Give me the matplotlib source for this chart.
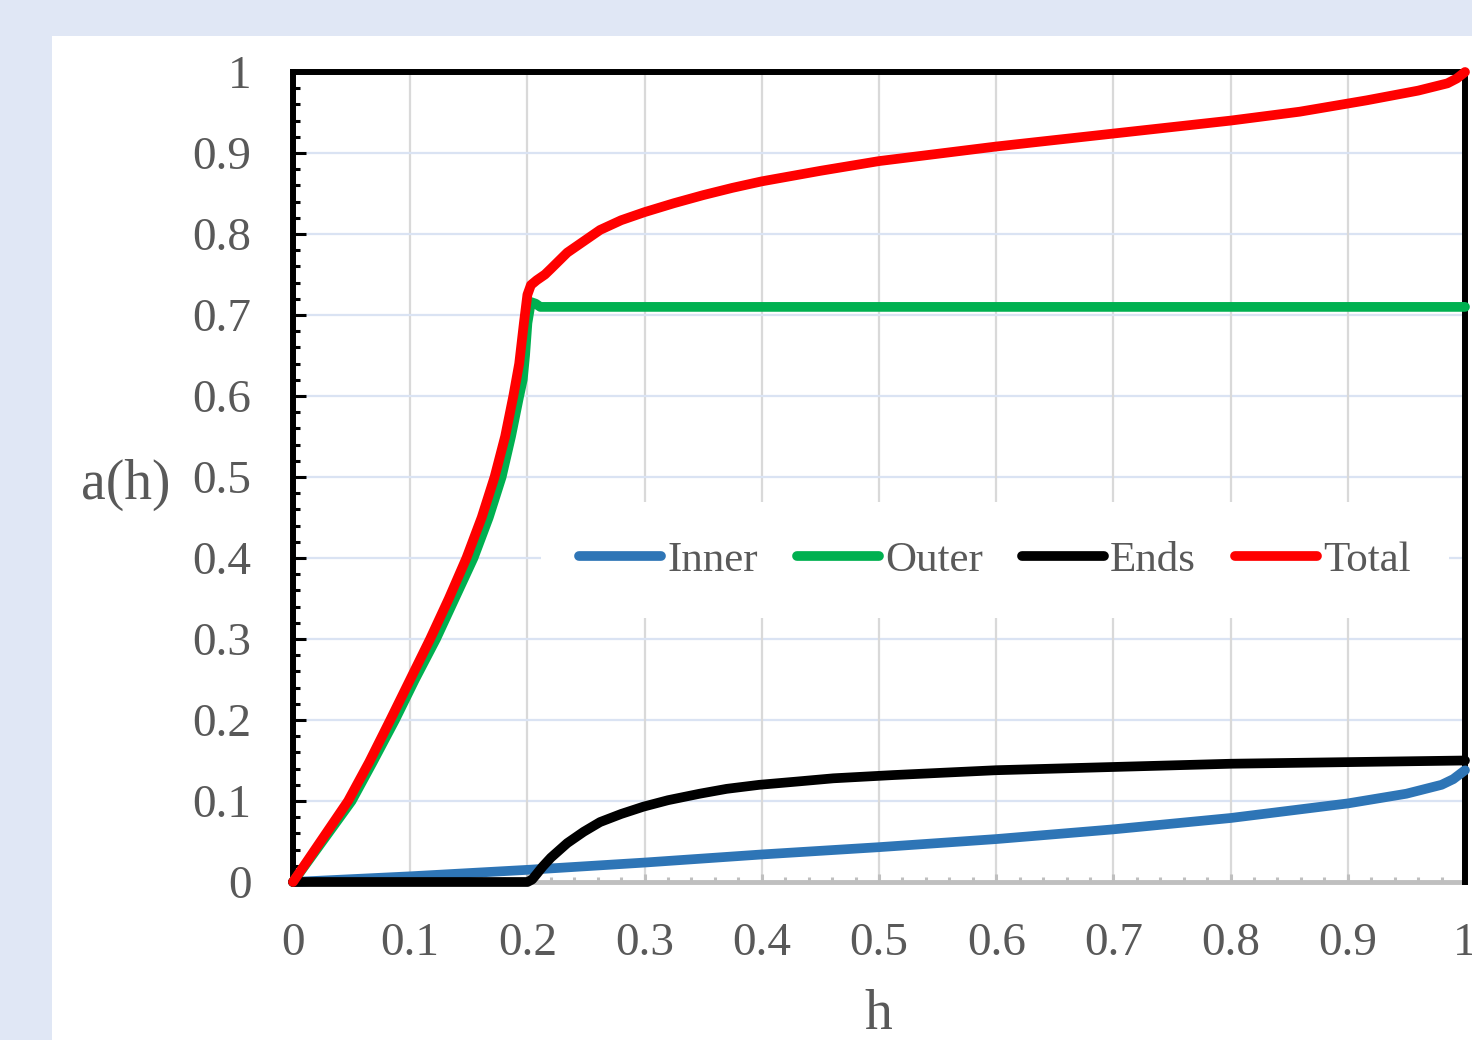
import matplotlib
matplotlib.use('Agg')
import matplotlib.pyplot as plt
from matplotlib.patches import Rectangle
from matplotlib.ticker import MultipleLocator

plt.rcParams['font.family'] = ['Liberation Serif', 'DejaVu Serif']

# data
h_inner = [0, 0.1, 0.2, 0.3, 0.4, 0.5, 0.6, 0.7, 0.8, 0.9, 0.95, 0.98, 0.99, 1.0]
a_inner = [0, 0.007, 0.015, 0.024, 0.034, 0.043, 0.053, 0.065, 0.079, 0.097, 0.109, 0.12, 0.127, 0.138]

h_outer = [0, 0.05, 0.068, 0.087, 0.104, 0.122, 0.138, 0.154, 0.167, 0.178, 0.186, 0.193,
           0.196, 0.198, 0.2, 0.203, 0.207, 0.211, 1.0]
a_outer = [0, 0.1, 0.148, 0.2, 0.25, 0.3, 0.35, 0.4, 0.45, 0.5, 0.55, 0.6,
           0.62, 0.65, 0.69, 0.716, 0.714, 0.71, 0.71]

h_ends = [0, 0.2, 0.204, 0.208, 0.213, 0.22, 0.234, 0.248, 0.262, 0.28, 0.299, 0.32, 0.347,
          0.37, 0.398, 0.43, 0.461, 0.512, 0.6, 0.7, 0.8, 0.9, 1.0]
a_ends = [0, 0, 0.003, 0.01, 0.019, 0.03, 0.048, 0.062, 0.074, 0.084, 0.093, 0.101, 0.109,
          0.115, 0.12, 0.124, 0.128, 0.132, 0.138, 0.142, 0.146, 0.148, 0.15]

h_total = [0, 0.047, 0.065, 0.083, 0.1, 0.117, 0.133, 0.148, 0.161, 0.172, 0.181, 0.188, 0.193,
           0.197, 0.2, 0.203, 0.208, 0.215, 0.22, 0.234, 0.245, 0.262, 0.28, 0.3, 0.325, 0.35,
           0.375, 0.4, 0.45, 0.5, 0.55, 0.6, 0.7, 0.8, 0.859, 0.916, 0.96, 0.985, 0.993, 1.0]
a_total = [0, 0.1, 0.148, 0.2, 0.25, 0.3, 0.35, 0.4, 0.45, 0.5, 0.55, 0.6, 0.64,
           0.69, 0.725, 0.737, 0.743, 0.75, 0.757, 0.777, 0.788, 0.805, 0.817, 0.827, 0.838, 0.848,
           0.857, 0.865, 0.878, 0.89, 0.899, 0.908, 0.924, 0.94, 0.951, 0.965, 0.977, 0.986, 0.992, 1.0]

series = [
    ('Inner', h_inner, a_inner, '#2E75B6'),
    ('Outer', h_outer, a_outer, '#00B050'),
    ('Ends', h_ends, a_ends, '#000000'),
    ('Total', h_total, a_total, '#FF0000'),
]

txt = '#595959'

fig = plt.figure(figsize=(14.72, 10.4), dpi=100)
fig.patch.set_facecolor('#E0E7F5')
fig.patches.append(Rectangle((52 / 1472, 0), 1 - 52 / 1472, 1 - 36 / 1040,
                             transform=fig.transFigure, facecolor='white',
                             edgecolor='none', zorder=-5))

ax = fig.add_axes([293 / 1472, 1 - 882 / 1040, (1465 - 293) / 1472, (882 - 72) / 1040])
ax.set_facecolor('white')

for name, hx, ay, col in series:
    ax.plot(hx, ay, color=col, lw=7, label=name, solid_capstyle='round',
            solid_joinstyle='round', clip_on=False, zorder=4)

ax.set_xlim(0, 1)
ax.set_ylim(0, 1)
ax.xaxis.set_minor_locator(MultipleLocator(0.02))
ax.yaxis.set_minor_locator(MultipleLocator(0.02))
ax.set_xticks([i / 10 for i in range(11)])
ax.set_xticklabels(['0', '0.1', '0.2', '0.3', '0.4', '0.5', '0.6', '0.7', '0.8', '0.9', '1'])
ax.set_yticks([i / 10 for i in range(11)])
ax.set_yticklabels(['0', '0.1', '0.2', '0.3', '0.4', '0.5', '0.6', '0.7', '0.8', '0.9', '1'])

ax.grid(False)
for v in [i / 10 for i in range(1, 10)]:
    ax.axvline(v, color='#D9D9D9', lw=1.6, zorder=1)
    ax.axhline(v, color='#DAE3F3', lw=1.6, zorder=1)

for s in ['top', 'left', 'right']:
    ax.spines[s].set_color('black')
    ax.spines[s].set_linewidth(4.3)
    ax.spines[s].set_zorder(3)
ax.spines['bottom'].set_color('#BFBFBF')
ax.spines['bottom'].set_linewidth(3.5)
ax.spines['bottom'].set_zorder(2)

ax.tick_params(axis='y', which='major', direction='in', length=9.5, width=2.2,
               color='black', labelsize=34, labelcolor=txt, pad=30)
ax.tick_params(axis='y', which='minor', direction='in', length=5, width=2.2, color='black')
ax.tick_params(axis='x', which='major', direction='in', length=6, width=2.2,
               color='#BFBFBF', labelsize=34, labelcolor=txt, pad=29)
ax.tick_params(axis='x', which='minor', direction='in', length=3.6, width=2.2, color='#BFBFBF')

ax.set_ylabel('a(h)', fontsize=40, color=txt, rotation=0, ha='center', va='center')
ax.yaxis.set_label_coords(-0.143, 0.49)
ax.set_xlabel('h', fontsize=40, color=txt, va='center')
ax.xaxis.set_label_coords(0.499, -0.164)

leg = ax.legend(loc='center', bbox_to_anchor=(0.599, 0.3975), ncol=4, frameon=True,
                fontsize=31, handlelength=1.9, handletextpad=0.15, columnspacing=0.9,
                borderpad=0.9, fancybox=False)
leg.get_frame().set_edgecolor('none')
leg.get_frame().set_facecolor('white')
leg.get_frame().set_alpha(1)
leg.set_zorder(3.5)
for t in leg.get_texts():
    t.set_color(txt)

fig.savefig('out.png', dpi=100, facecolor=fig.get_facecolor())
